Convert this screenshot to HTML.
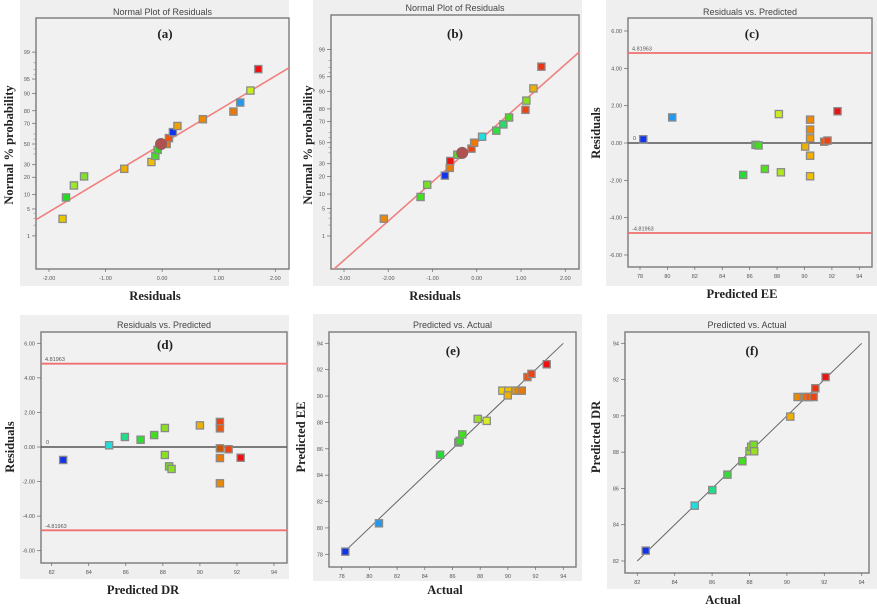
<!DOCTYPE html>
<html><head><meta charset="utf-8"><style>
html,body{margin:0;padding:0;background:#fff;}
svg{display:block;}
.tl{font-family:"Liberation Sans",sans-serif;font-size:5.5px;fill:#555;}
.tt{font-family:"Liberation Sans",sans-serif;font-size:9px;fill:#444;}
.ax{font-family:"Liberation Serif",serif;font-size:12.5px;font-weight:bold;fill:#222;}
.lt{font-family:"Liberation Serif",serif;font-size:13px;font-weight:bold;fill:#222;}
</style></head><body>
<svg id="fig" width="877" height="613" viewBox="0 0 877 613" xmlns="http://www.w3.org/2000/svg"></svg>
<script>
// ---- data ----
const probLevels = [2.9,8.8,14.7,20.6,26.5,32.4,38.2,44.1,50,55.9,61.8,67.6,73.5,79.4,85.3,91.2,97.1];
const probTicks = [1,5,10,20,30,50,70,80,90,95,99];
const aResiduals = [-1.76,-1.70,-1.56,-1.38,-0.67,-0.19,-0.12,-0.08,0.08,0.12,0.19,0.27,0.72,1.26,1.38,1.56,1.70];
const aColors = ["#e8c800","#22dd22","#9be82a","#7fe030","#f0b000","#f0c000","#44dd22","#33dd22","#ee7700","#ee5511","#1133ee","#f0a000","#ee8800","#ee7700","#2299ee","#c8ee20","#ee1111"];
const aCenter = [-0.02,50];
const bResiduals = [-2.10,-1.27,-1.12,-0.72,-0.61,-0.60,-0.44,-0.12,-0.06,0.12,0.44,0.60,0.73,1.10,1.12,1.28,1.46];
const bColors = ["#ee8800","#44dd22","#77e020","#1133ee","#ee7700","#ee1111","#55dd22","#ee4411","#ee7700","#22dddd","#33dd44","#22dd66","#44dd22","#ee4411","#88e020","#f0b000","#ee3311"];
const bCenter = [-0.33,40];
const xTicksA = [-2,-1,0,1,2];
const xTicksB = [-3,-2,-1,0,1,2];
const cPredicted = [78.24,80.35,85.53,86.43,86.65,87.11,88.13,88.28,90.05,90.41,90.41,90.41,90.41,90.41,91.44,91.68,92.41];
const cResiduals = [0.2,1.37,-1.71,-0.1,-0.13,-1.39,1.55,-1.57,-0.19,1.25,0.72,0.25,-0.68,-1.78,0.07,0.13,1.70];
const cColors = ["#1133ee","#2299ee","#22dd33","#33dd22","#44dd22","#55dd22","#c8ee20","#b0e820","#f0b000","#ee8800","#ee8800","#ee9900","#f0b000","#f0c000","#ee5511","#ee4411","#ee1111"];
const dPredicted = [82.62,85.1,85.95,86.8,87.53,88.11,88.11,88.34,88.47,90.0,91.08,91.08,91.08,91.08,91.08,91.55,92.2];
const dResiduals = [-0.75,0.1,0.58,0.42,0.69,1.1,-0.46,-1.12,-1.27,1.25,1.45,1.08,-0.08,-0.64,-2.1,-0.13,-0.62];
const dColors = ["#1133ee","#22dddd","#22dd88","#33dd33","#44dd22","#88e020","#88e020","#77e020","#88e020","#f0b000","#ee4411","#ee5511","#cc5500","#ee7700","#ee8800","#ee4411","#ee1111"];
const limitValue = 4.81963;
const resTicks = [-6,-4,-2,0,2,4,6];
const eActual = [78.26,80.69,85.1,86.42,86.52,86.71,87.82,88.47,89.6,90.03,89.99,90.55,90.79,91.0,91.41,91.7,92.8];
const ePredicted = [78.2,80.35,85.55,86.48,86.6,87.09,88.27,88.12,90.41,90.41,90.05,90.41,90.41,90.41,91.44,91.68,92.41];
const eColors = ["#1133ee","#2299ee","#22dd33","#22bb22","#33dd22","#44dd22","#99e020","#d8ee20","#f0d000","#f0c000","#f0b000","#ee9900","#ee8800","#ee7700","#ee5511","#ee4411","#ee1111"];
const fActual = [82.45,85.07,86.01,86.82,87.62,88.0,88.09,88.22,88.25,90.18,90.57,90.9,91.04,91.2,91.43,91.52,92.07];
const fPredicted = [82.57,85.05,85.91,86.76,87.5,88.05,88.3,88.41,88.05,89.96,91.04,91.04,91.04,91.04,91.04,91.52,92.14];
const fColors = ["#1133ee","#22dddd","#22dd88","#33dd33","#44dd22","#88e020","#88e020","#77e020","#99e020","#f0b000","#ee8800","#ee7700","#ee6600","#ee5511","#ee4411","#ee3311","#ee1111"];
const eeTicks = [78,80,82,84,86,88,90,92,94];
const drTicks = [82,84,86,88,90,92,94];

// ---- helpers ----
const NS = "http://www.w3.org/2000/svg";
const svg = document.getElementById("fig");
function mk(tag, attrs, parent, text){
  const e = document.createElementNS(NS, tag);
  for (const k in attrs) e.setAttribute(k, attrs[k]);
  if (text !== undefined) e.textContent = text;
  (parent || svg).appendChild(e);
  return e;
}
function invNorm(p){
  const a=[-39.69683028665376,220.9460984245205,-275.9285104469687,138.357751867269,-30.66479806614716,2.506628277459239];
  const b=[-54.47609879822406,161.5858368580409,-155.6989798598866,66.80131188771972,-13.28068155288572];
  const c=[-0.007784894002430293,-0.3223964580411365,-2.400758277161838,-2.549732539343734,4.374664141464968,2.938163982698783];
  const d=[0.007784695709041462,0.3224671290700398,2.445134137142996,3.754408661907416];
  const pl=0.02425;
  if (p<pl){const q=Math.sqrt(-2*Math.log(p));return (((((c[0]*q+c[1])*q+c[2])*q+c[3])*q+c[4])*q+c[5])/((((d[0]*q+d[1])*q+d[2])*q+d[3])*q+1);}
  if (p>1-pl){const q=Math.sqrt(-2*Math.log(1-p));return -(((((c[0]*q+c[1])*q+c[2])*q+c[3])*q+c[4])*q+c[5])/((((d[0]*q+d[1])*q+d[2])*q+d[3])*q+1);}
  const q=p-0.5,r=q*q;
  return (((((a[0]*r+a[1])*r+a[2])*r+a[3])*r+a[4])*r+a[5])*q/(((((b[0]*r+b[1])*r+b[2])*r+b[3])*r+b[4])*r+1);
}
function lin(d0,d1,r0,r1){return v => r0 + (v-d0)*(r1-r0)/(d1-d0);}

function frame(g, P){
  const bg = mk("rect",{x:P.bg[0],y:P.bg[1],width:P.bg[2]-P.bg[0],height:P.bg[3]-P.bg[1],fill:"#efefef"},g);
  
  
  const fr = mk("rect",{x:P.fr[0],y:P.fr[1],width:P.fr[2]-P.fr[0],height:P.fr[3]-P.fr[1],fill:"#f1f1f1",stroke:"#7a7a7a","stroke-width":1.4},g);
  
  
  const t = mk("text",{x:(P.fr[0]+P.fr[2])/2,y:P.titleY,"text-anchor":"middle",class:"tt"},g,P.title);
  
  
  const l = mk("text",{x:P.letter[0],y:P.letter[1],"text-anchor":"middle",class:"lt"},g,P.letterText);
  
  
  const xl = mk("text",{x:P.xlab[0],y:P.xlab[1],"text-anchor":"middle",class:"ax"},g,P.xlabText);
  
  
  const yl = mk("text",{x:P.ylab[0],y:P.ylab[1],"text-anchor":"middle",class:"ax",transform:`rotate(-90 ${P.ylab[0]} ${P.ylab[1]})`},g,P.ylabText);
  
  
}
function xTicks(g, P, ticks, xs, fmt){
  ticks.forEach(v=>{
    const x = xs(v);
    const tk = mk("line",{x1:x,x2:x,y1:P.fr[3],y2:P.fr[3]+3,stroke:"#666","stroke-width":0.7},g);
    
    
    const tx = mk("text",{x:x,y:P.fr[3]+11,"text-anchor":"middle",class:"tl"},g,fmt(v));
    
    
  });
}
function yTicks(g, P, ticks, ys, fmt){
  ticks.forEach(v=>{
    const y = ys(v);
    const tk = mk("line",{x1:P.fr[0]-4,x2:P.fr[0],y1:y,y2:y,stroke:"#666","stroke-width":0.7},g);
    
    
    const tx = mk("text",{x:P.fr[0]-6,y:y+2,"text-anchor":"end",class:"tl"},g,fmt(v));
    
    
  });
}
function marker(g, x, y, color){
  const r = mk("rect",{x:x-3.6,y:y-3.6,width:7.2,height:7.2,fill:color,stroke:"#8a8a8a","stroke-width":1.3},g);
  
  
}
const f2 = v => v.toFixed(2);
const fi = v => String(v);

// ---- normal plots ----
function normalPlot(P, residuals, colors, center, ticks, slope){
  const g = mk("g",{});
  
  
  frame(g,P);
  const xs = lin(P.xd[0],P.xd[1],P.xr[0],P.xr[1]);
  const ys = p => P.y50 - invNorm(p/100)*P.k;
  xTicks(g,P,ticks,xs,f2);
  yTicks(g,P,probTicks,ys,fi);
  [2,3,4,40,45,55,60,96,97,98].forEach(p=>{
    const y=ys(p);
    const m=mk("line",{x1:P.fr[0]-2.5,x2:P.fr[0],y1:y,y2:y,stroke:"#777","stroke-width":0.5},g);
    
    
  });
  // fit line (z = slope*residual)
  const r0 = P.xd[0]+ (P.fr[0]-P.xr[0])/(P.xr[1]-P.xr[0])*(P.xd[1]-P.xd[0]);
  const r1 = P.xd[0]+ (P.fr[2]-P.xr[0])/(P.xr[1]-P.xr[0])*(P.xd[1]-P.xd[0]);
  let y0 = P.y50 - slope*r0*P.k, y1 = P.y50 - slope*r1*P.k;
  let x0 = P.fr[0], x1 = P.fr[2];
  if (y0 > P.fr[3]) { x0 = x0 + (y0-P.fr[3])/(y0-y1)*(x1-x0); y0 = P.fr[3]; }
  const fl = mk("line",{x1:x0,y1:y0,x2:x1,y2:y1,stroke:"#f08080","stroke-width":1.6},g);
  
  
  residuals.forEach((r,i)=>marker(g,xs(r),ys(probLevels[i]),colors[i]));
  const c = mk("circle",{cx:xs(center[0]),cy:ys(center[1]),r:5.5,fill:"#b05050",stroke:"#8a6060","stroke-width":1},g);
  
  
}
normalPlot({bg:[20,0,289,286],fr:[36,18,289,269],title:"Normal Plot of Residuals",titleY:15,letter:[165,38],letterText:"(a)",
  xlab:[155,300],xlabText:"Residuals",ylab:[13,145],ylabText:"Normal % probability",
  xd:[-2,2],xr:[49,275.3],y50:144,k:39.5}, aResiduals,aColors,aCenter,xTicksA,0.86);
normalPlot({bg:[313,0,582,286],fr:[331,15,579,269],title:"Normal Plot of Residuals",titleY:11,letter:[455,38],letterText:"(b)",
  xlab:[435,300],xlabText:"Residuals",ylab:[312,145],ylabText:"Normal % probability",
  xd:[-3,2],xr:[344,565.3],y50:142.7,k:40.1}, bResiduals,bColors,bCenter,xTicksB,0.977);

// ---- residuals vs predicted ----
function residPlot(P, pred, res, colors, xt){
  const g = mk("g",{});
  
  
  frame(g,P);
  const xs = lin(P.xd[0],P.xd[1],P.xr[0],P.xr[1]);
  const ys = lin(-6,6,P.yr[0],P.yr[1]);
  xTicks(g,P,xt,xs,fi);
  yTicks(g,P,resTicks,ys,f2);
  [limitValue,-limitValue].forEach((v,i)=>{
    const ln = mk("line",{x1:P.fr[0],x2:P.fr[2],y1:ys(v),y2:ys(v),stroke:"#f07070","stroke-width":1.8},g);
    
    
    const lb = mk("text",{x:P.fr[0]+4,y:ys(v)-2.5,class:"tl"},g,v.toFixed(5));
    
    
  });
  const z = mk("line",{x1:P.fr[0],x2:P.fr[2],y1:ys(0),y2:ys(0),stroke:"#555","stroke-width":1.6},g);
  
  
  const zl = mk("text",{x:P.fr[0]+5,y:ys(0)-3,class:"tl"},g,"0");
  
  
  pred.forEach((p,i)=>marker(g,xs(p),ys(res[i]),colors[i]));
}
residPlot({bg:[606,0,877,286],fr:[628,18,872,267],title:"Residuals vs. Predicted",titleY:15,letter:[752,38],letterText:"(c)",
  xlab:[742,298],xlabText:"Predicted EE",ylab:[600,133],ylabText:"Residuals",
  xd:[78,94],xr:[640,859.3],yr:[255,31]}, cPredicted,cResiduals,cColors,eeTicks);
residPlot({bg:[20,315,289,579],fr:[41,332,287,563],title:"Residuals vs. Predicted",titleY:328,letter:[165,349],letterText:"(d)",
  xlab:[143,594],xlabText:"Predicted DR",ylab:[14,447],ylabText:"Residuals",
  xd:[82,94],xr:[51.7,274],yr:[550.7,343.3]}, dPredicted,dResiduals,dColors,drTicks);

// ---- predicted vs actual ----
function pvaPlot(P, act, pred, colors, xt){
  const g = mk("g",{});
  
  
  frame(g,P);
  const xs = lin(P.d[0],P.d[1],P.xr[0],P.xr[1]);
  const ys = lin(P.d[0],P.d[1],P.yr[0],P.yr[1]);
  xTicks(g,P,xt,xs,fi);
  yTicks(g,P,xt,ys,fi);
  const dl = mk("line",{x1:xs(P.d[0]),y1:ys(P.d[0]),x2:xs(P.d[1]),y2:ys(P.d[1]),stroke:"#666","stroke-width":1},g);
  
  
  act.forEach((a,i)=>marker(g,xs(a),ys(pred[i]),colors[i]));
}
pvaPlot({bg:[313,314,582,581],fr:[329,332,576,567],title:"Predicted vs. Actual",titleY:328,letter:[453,355],letterText:"(e)",
  xlab:[445,594],xlabText:"Actual",ylab:[305,437],ylabText:"Predicted EE",
  d:[78,94],xr:[341.7,563.3],yr:[554.3,343.3]}, eActual,ePredicted,eColors,eeTicks);
pvaPlot({bg:[607,314,877,589],fr:[625,332,869,573],title:"Predicted vs. Actual",titleY:328,letter:[752,355],letterText:"(f)",
  xlab:[723,604],xlabText:"Actual",ylab:[600,437],ylabText:"Predicted DR",
  d:[82,94],xr:[637.3,861.7],yr:[561,343.3]}, fActual,fPredicted,fColors,drTicks);
</script>
</body></html>
